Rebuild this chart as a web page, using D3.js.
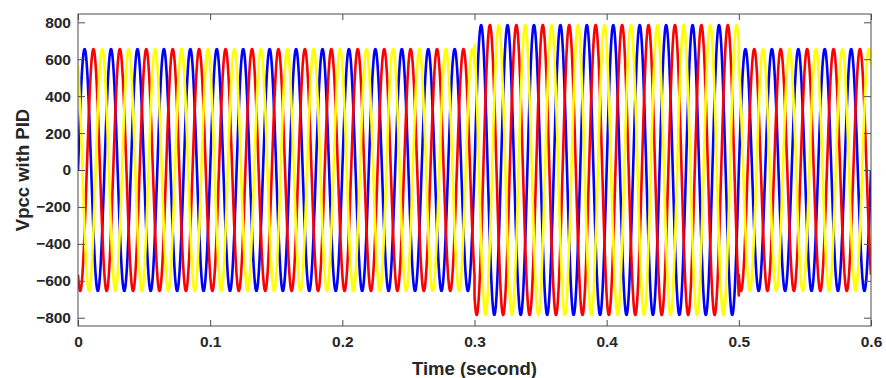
<!DOCTYPE html>
<html>
<head>
<meta charset="utf-8">
<script src="https://cdn.jsdelivr.net/npm/d3@7/dist/d3.min.js"></script>
<style>
  html, body { margin: 0; padding: 0; background: #fff; }
  svg { display: block; }
</style>
</head>
<body>
<svg id="chart" width="886" height="378"></svg>
<script>
// ---- data ----
const phaseNames = ["Va", "Vb", "Vc"];
const phaseShiftDeg = [0, -120, 120];
const frequencyHz = 50;
const segmentBreaks = [0, 0.3, 0.5, 0.6];      // seconds
const segmentAmplitudes = [655, 785, 655];      // peak volts per segment
const xTicks = [0, 0.1, 0.2, 0.3, 0.4, 0.5, 0.6];
const yTicks = [-800, -600, -400, -200, 0, 200, 400, 600, 800];
const xLabel = "Time (second)";
const yLabel = "Vpcc with PID";

// ---- layout / styles ----
const W = 886, H = 378;
const m = { left: 78, right: 15, top: 14, bottom: 52 };
const colors = ["#0000ff", "#ff0000", "#ffff00"];
const textColor = "#262626";

const svg = d3.select("#chart");
const x = d3.scaleLinear().domain([0, 0.6]).range([m.left, W - m.right]);
const y = d3.scaleLinear().domain([-845, 845]).range([H - m.bottom, m.top]);

// sample the recorded three-phase voltages
const dt = 0.0001;
function series(k) {
  const pts = [];
  for (let s = 0; s < segmentAmplitudes.length; s++) {
    const t0 = segmentBreaks[s], t1 = segmentBreaks[s + 1];
    const n = Math.round((t1 - t0) / dt);
    for (let i = 0; i <= n; i++) {
      const t = t0 + i * dt;
      const v = segmentAmplitudes[s] * Math.sin(2 * Math.PI * frequencyHz * t + phaseShiftDeg[k] * Math.PI / 180);
      pts.push([t, v]);
    }
  }
  return pts;
}

svg.append("defs").append("clipPath").attr("id", "clip")
  .append("rect")
  .attr("x", m.left).attr("y", m.top)
  .attr("width", W - m.left - m.right).attr("height", H - m.top - m.bottom);

const line = d3.line().x(d => x(d[0])).y(d => y(d[1]));
const g = svg.append("g").attr("clip-path", "url(#clip)");
phaseNames.forEach((name, k) => {
  g.append("path")
    .datum(series(k))
    .attr("fill", "none")
    .attr("stroke", colors[k])
    .attr("stroke-width", 2.6)
    .attr("stroke-linejoin", "round")
    .attr("d", line);
});

// axes (ticks inside, box on)
const axisFont = "bold 15.5px 'Liberation Sans', Arial, sans-serif";
function styleAxis(sel) {
  sel.select(".domain").remove();
  sel.selectAll(".tick line").attr("stroke", "#4d4d4d");
  sel.selectAll(".tick text").attr("fill", textColor).style("font", axisFont);
}
svg.append("g").attr("transform", `translate(0,${H - m.bottom})`)
  .call(d3.axisBottom(x).tickValues(xTicks).tickFormat(d3.format("~g")).tickSizeInner(-6).tickSizeOuter(0).tickPadding(10))
  .call(styleAxis);
svg.append("g").attr("transform", `translate(0,${m.top})`)
  .call(d3.axisTop(x).tickValues(xTicks).tickFormat("").tickSizeInner(-6).tickSizeOuter(0))
  .call(styleAxis);
svg.append("g").attr("transform", `translate(${m.left},0)`)
  .call(d3.axisLeft(y).tickValues(yTicks).tickFormat(d3.format("d")).tickSizeInner(-7).tickSizeOuter(0).tickPadding(7))
  .call(styleAxis);
svg.append("g").attr("transform", `translate(${W - m.right},0)`)
  .call(d3.axisRight(y).tickValues(yTicks).tickFormat("").tickSizeInner(-7).tickSizeOuter(0))
  .call(styleAxis);

svg.append("rect")
  .attr("x", m.left).attr("y", m.top)
  .attr("width", W - m.left - m.right).attr("height", H - m.top - m.bottom)
  .attr("fill", "none").attr("stroke", "#4d4d4d").attr("stroke-width", 1);

// axis labels
svg.append("text")
  .attr("x", (m.left + W - m.right) / 2).attr("y", 375)
  .attr("text-anchor", "middle").attr("fill", textColor)
  .style("font", "bold 18.5px 'Liberation Sans', Arial, sans-serif")
  .text(xLabel);
svg.append("text")
  .attr("transform", `translate(29,${(m.top + H - m.bottom) / 2}) rotate(-90)`)
  .attr("text-anchor", "middle").attr("fill", textColor)
  .style("font", "bold 18.5px 'Liberation Sans', Arial, sans-serif")
  .text(yLabel);
</script>
</body>
</html>
